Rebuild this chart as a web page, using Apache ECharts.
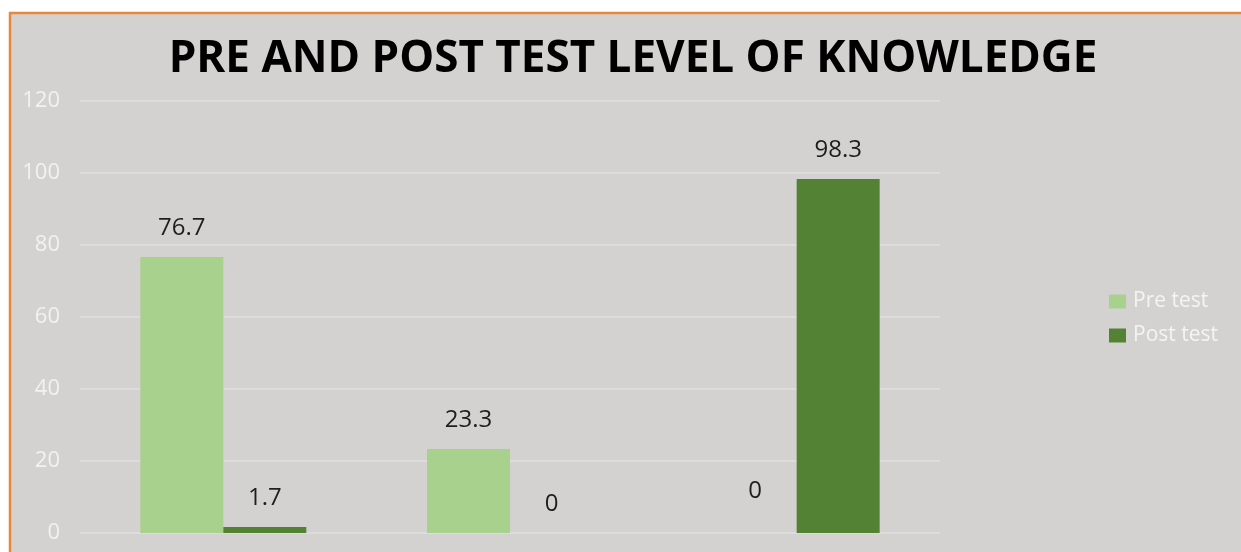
<!DOCTYPE html>
<html>
<head>
<meta charset="utf-8">
<script src="https://cdn.jsdelivr.net/npm/echarts@6/dist/echarts.min.js"></script>
<style>
  html, body { margin: 0; padding: 0; background: #fff; }
  #chart { width: 1241px; height: 552px; }
</style>
</head>
<body>
<div id="chart"></div>
<script>
// categories (x labels are cut off in the picture)
const categories = ['Inadequate', 'Moderate', 'Adequate'];
const preTest = [76.7, 23.3, 0];
const postTest = [1.7, 0, 98.3];
const seriesNames = ['Pre test', 'Post test'];

const chart = echarts.init(document.getElementById('chart'));

const labelStyle = {
  show: true,
  position: 'top',
  distance: 17,
  color: '#1e1e1e',
  fontSize: 24,
  fontFamily: 'Open Sans'
};

const option = {
  animation: false,
  graphic: [{
    type: 'rect',
    z: -10,
    shape: { x: 10, y: 13, width: 1300, height: 600 },
    style: { fill: '#d4d1d1', stroke: '#e8893a', lineWidth: 2.5 }
  }],
  title: {
    text: 'PRE AND POST TEST LEVEL OF KNOWLEDGE',
    left: 628,
    textAlign: 'center',
    top: 32,
    textStyle: {
      fontFamily: 'Open Sans',
      fontWeight: 'bold',
      fontSize: 44,
      color: '#000'
    }
  },
  legend: {
    orient: 'vertical',
    left: 1104,
    top: 286,
    itemWidth: 17,
    itemHeight: 14,
    itemGap: 13,
    icon: 'rect',
    textStyle: { color: '#f4f4f4', fontSize: 21, fontFamily: 'Open Sans', padding: [0, 0, 0, 2] },
    data: seriesNames
  },
  grid: { left: 80, right: 301, top: 101, bottom: 19 },
  xAxis: {
    type: 'category',
    data: categories,
    axisLine: { show: false },
    axisTick: { show: false },
    axisLabel: { show: false }
  },
  yAxis: {
    type: 'value',
    min: 0,
    max: 120,
    interval: 20,
    axisLine: { show: false },
    axisTick: { show: false },
    axisLabel: { color: '#f2f2f2', fontSize: 22, fontFamily: 'Open Sans', margin: 20 },
    splitLine: { lineStyle: { color: '#e0dede', width: 1.5 } }
  },
  series: [
    {
      name: seriesNames[0],
      type: 'bar',
      data: preTest.map((v, i) => i === 2 ? { value: v, label: { distance: 30 } } : v),
      barWidth: 83,
      barGap: '0%',
      itemStyle: { color: '#a9d18e' },
      label: labelStyle
    },
    {
      name: seriesNames[1],
      type: 'bar',
      data: postTest,
      barWidth: 83,
      barGap: '0%',
      itemStyle: { color: '#548235' },
      label: labelStyle
    }
  ]
};

chart.setOption(option);
</script>
</body>
</html>
